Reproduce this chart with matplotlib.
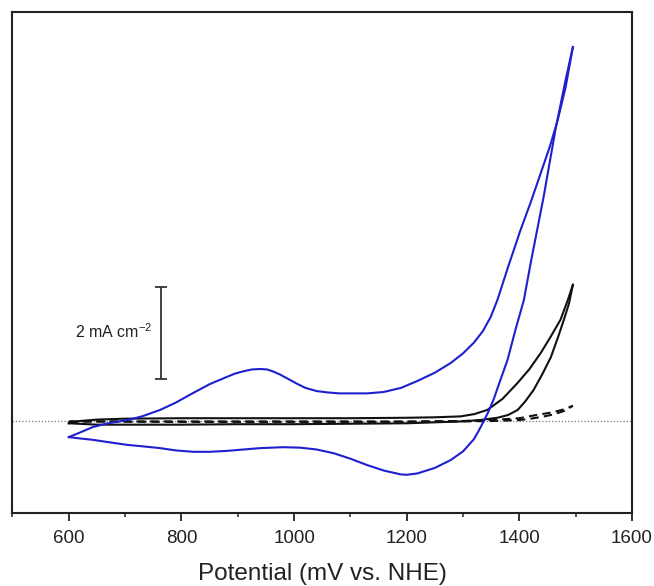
import matplotlib.pyplot as plt
from matplotlib.ticker import MultipleLocator

plt.rcParams['font.family'] = ['Liberation Sans', 'DejaVu Sans']
plt.rcParams['mathtext.default'] = 'regular'

# Cyclic voltammograms, potential in mV vs. NHE, current density in mA cm^-2
# blue: with catalyst, forward (anodic) and reverse sweeps
blue_fwd_E = [600, 620, 643, 670, 704, 730, 762, 790, 821, 850, 881, 895, 910, 925, 940,
              952, 962, 975, 990, 1005, 1020, 1040, 1060, 1080, 1100, 1130, 1159, 1190,
              1219, 1250, 1278, 1300, 1319, 1335, 1349, 1361, 1380, 1402, 1420, 1438,
              1455, 1468, 1482, 1495]
blue_fwd_j = [-0.35, -0.25, -0.13, -0.05, 0.02, 0.10, 0.24, 0.40, 0.61, 0.80, 0.96, 1.03,
              1.08, 1.12, 1.13, 1.12, 1.08, 1.01, 0.91, 0.81, 0.72, 0.65, 0.62, 0.60, 0.60,
              0.60, 0.63, 0.72, 0.87, 1.05, 1.26, 1.47, 1.70, 1.95, 2.26, 2.63, 3.35, 4.15,
              4.75, 5.39, 6.00, 6.54, 7.25, 8.13]
blue_rev_E = [1495, 1482, 1464, 1443, 1420, 1408, 1393, 1379, 1366, 1354, 1345, 1336, 1327,
              1319, 1300, 1278, 1250, 1219, 1200, 1189, 1160, 1130, 1100, 1070, 1040, 1011,
              980, 940, 910, 881, 850, 821, 790, 762, 730, 704, 670, 643, 620, 600]
blue_rev_j = [8.13, 7.41, 6.33, 4.87, 3.43, 2.63, 1.98, 1.33, 0.88, 0.46, 0.20, -0.02, -0.23,
              -0.40, -0.66, -0.85, -1.02, -1.14, -1.17, -1.16, -1.08, -0.96, -0.82, -0.70,
              -0.62, -0.58, -0.57, -0.59, -0.62, -0.65, -0.67, -0.67, -0.64, -0.59, -0.55,
              -0.52, -0.46, -0.41, -0.38, -0.35]

# black solid: bare electrode
black_fwd_E = [600, 620, 650, 700, 800, 900, 1000, 1100, 1200, 1250, 1296, 1320, 1343,
               1370, 1397, 1418, 1438, 1455, 1473, 1486, 1495]
black_fwd_j = [-0.05, 0.0, 0.03, 0.05, 0.06, 0.06, 0.06, 0.06, 0.07, 0.08, 0.10, 0.15,
               0.24, 0.48, 0.83, 1.13, 1.48, 1.82, 2.20, 2.63, 2.96]
black_rev_E = [1495, 1488, 1479, 1468, 1456, 1440, 1425, 1410, 1397, 1380, 1361, 1330,
               1296, 1200, 1100, 1000, 900, 800, 700, 650, 600]
black_rev_j = [2.96, 2.55, 2.20, 1.80, 1.39, 1.00, 0.67, 0.42, 0.24, 0.13, 0.07, 0.02,
               -0.01, -0.05, -0.06, -0.07, -0.07, -0.08, -0.08, -0.08, -0.05]

# black dashed: blank electrolyte
dash_fwd_E = [600, 700, 800, 900, 1000, 1100, 1200, 1300, 1350, 1400, 1430, 1460, 1478, 1495]
dash_fwd_j = [-0.01, -0.01, -0.01, -0.01, -0.01, -0.01, -0.01, 0.0, 0.02, 0.06, 0.13, 0.19, 0.25, 0.33]
dash_rev_E = [1495, 1480, 1460, 1440, 1420, 1400, 1350, 1300, 1200, 1000, 800, 600]
dash_rev_j = [0.33, 0.22, 0.14, 0.09, 0.05, 0.02, 0.0, -0.01, -0.02, -0.02, -0.02, -0.01]

# scale bar for current density
bar_E = 764
bar_j = 1.91
bar_half = 1.0
bar_text = '2 mA cm$^{-2}$'

fig = plt.figure(figsize=(6.54, 5.86), dpi=100)
ax = fig.add_axes([0.0191, 0.1246, 0.9473, 0.8549])

ax.axhline(0, color='#777777', lw=0.9, ls=(0, (1, 1.6)), zorder=0)

ax.plot(dash_fwd_E, dash_fwd_j, color='#111111', lw=1.5, ls=(0, (4, 2.5)))
ax.plot(dash_rev_E, dash_rev_j, color='#111111', lw=1.5, ls=(2, (4, 2.5)))
ax.plot(black_fwd_E, black_fwd_j, color='#111111', lw=1.5)
ax.plot(black_rev_E, black_rev_j, color='#111111', lw=1.5)
ax.plot(blue_fwd_E, blue_fwd_j, color='#1f1fd0', lw=1.5)
ax.plot(blue_rev_E, blue_rev_j, color='#1f1fd0', lw=1.5)

ax.errorbar([bar_E], [bar_j], yerr=bar_half, color='#333333', lw=1.3,
            capsize=4, capthick=1.3)
ax.text(bar_E - 16, bar_j + 0.04, bar_text, ha='right', va='center',
        fontsize=11.5, color='#222222')

ax.set_xlim(500, 1600)
ax.set_ylim(-2.0, 8.89)
ax.xaxis.set_major_locator(MultipleLocator(200))
ax.xaxis.set_minor_locator(MultipleLocator(100))
ax.set_yticks([])
ax.tick_params(axis='x', which='major', direction='out', length=6, width=1.3,
               pad=6, labelsize=13.5, colors='#222222')
ax.tick_params(axis='x', which='minor', direction='out', length=3, width=1.1,
               colors='#222222')
for s in ax.spines.values():
    s.set_linewidth(1.5)
    s.set_color('#222222')

ax.set_xlabel('Potential (mV vs. NHE)', fontsize=17.5, color='#222222', labelpad=12)

fig.savefig('out.png', dpi=100)
